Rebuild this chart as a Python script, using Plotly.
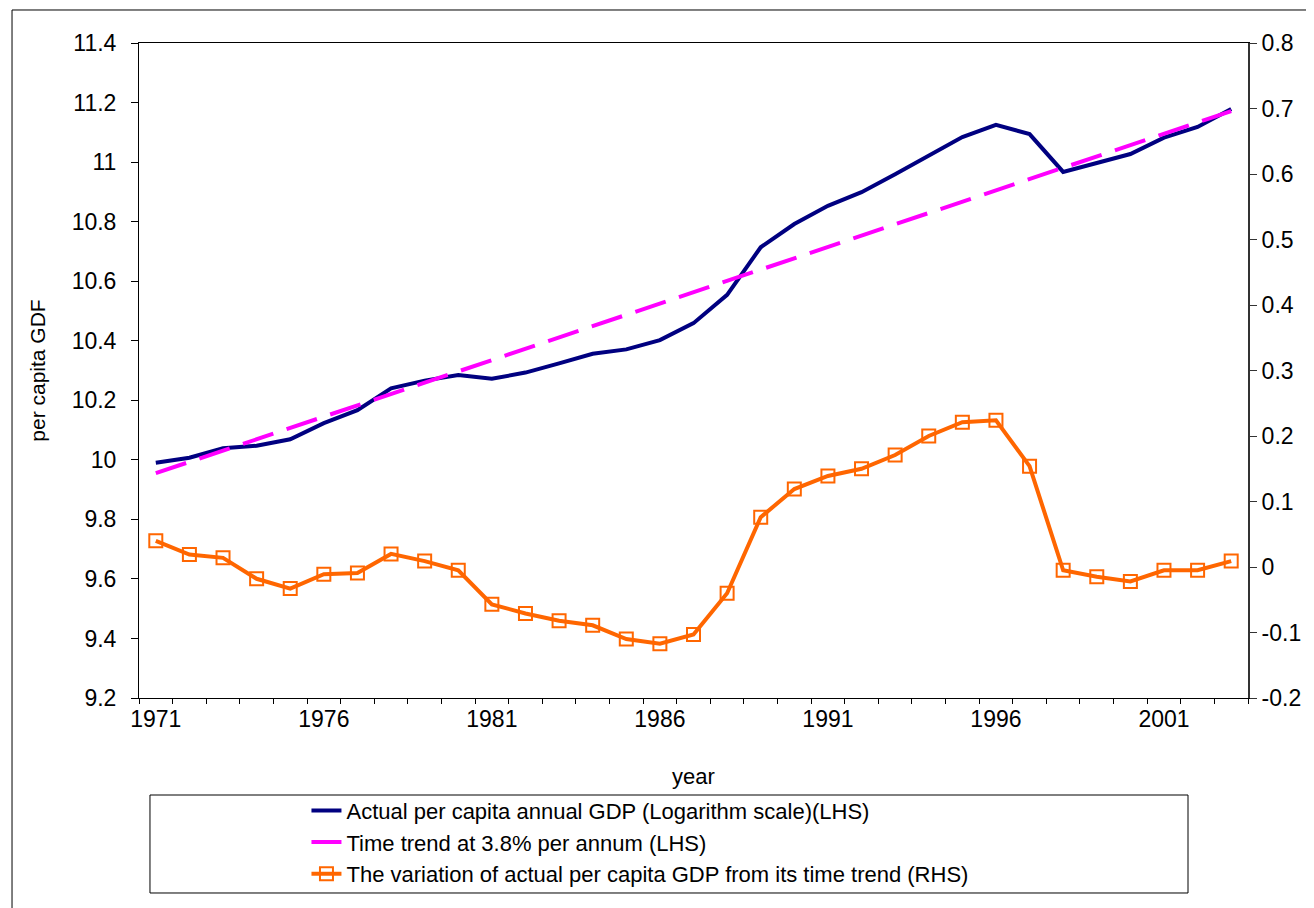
import plotly.graph_objects as go

years = [1971, 1972, 1973, 1974, 1975, 1976, 1977, 1978, 1979, 1980,
         1981, 1982, 1983, 1984, 1985, 1986, 1987, 1988, 1989, 1990,
         1991, 1992, 1993, 1994, 1995, 1996, 1997, 1998, 1999, 2000,
         2001, 2002, 2003]

actual_log_gdp = [9.990, 10.007, 10.039, 10.047, 10.069, 10.123, 10.167, 10.240, 10.266, 10.285,
                  10.272, 10.293, 10.324, 10.356, 10.371, 10.402, 10.459, 10.554, 10.714, 10.792,
                  10.853, 10.899, 10.959, 11.022, 11.084, 11.125, 11.094, 10.967, 10.998, 11.027,
                  11.082, 11.118, 11.178]

trend_log_gdp = [9.955, 9.993, 10.031, 10.069, 10.107, 10.145, 10.183, 10.221, 10.259, 10.297,
                 10.335, 10.373, 10.411, 10.449, 10.487, 10.525, 10.563, 10.601, 10.639, 10.677,
                 10.715, 10.753, 10.791, 10.829, 10.867, 10.905, 10.943, 10.981, 11.019, 11.057,
                 11.095, 11.133, 11.171]

variation = [0.040, 0.019, 0.014, -0.018, -0.033, -0.011, -0.009, 0.020, 0.009, -0.005,
             -0.057, -0.071, -0.082, -0.089, -0.110, -0.117, -0.103, -0.040, 0.076, 0.119,
             0.139, 0.150, 0.171, 0.200, 0.221, 0.224, 0.154, -0.005, -0.015, -0.022,
             -0.005, -0.005, 0.009]

x_labels = [1971, 1976, 1981, 1986, 1991, 1996, 2001]
left_ticks = [9.2, 9.4, 9.6, 9.8, 10.0, 10.2, 10.4, 10.6, 10.8, 11.0, 11.2, 11.4]
left_text = ["9.2", "9.4", "9.6", "9.8", "10", "10.2", "10.4", "10.6", "10.8", "11", "11.2", "11.4"]
right_ticks = [-0.2, -0.1, 0.0, 0.1, 0.2, 0.3, 0.4, 0.5, 0.6, 0.7, 0.8]
right_text = ["-0.2", "-0.1", "0", "0.1", "0.2", "0.3", "0.4", "0.5", "0.6", "0.7", "0.8"]

FONT = "Arial, Liberation Sans, sans-serif"

fig = go.Figure()
fig.add_trace(go.Scatter(
    x=years, y=actual_log_gdp, mode="lines",
    name="Actual per capita annual GDP (Logarithm scale)(LHS)",
    line=dict(color="#000080", width=4)))
fig.add_trace(go.Scatter(
    x=years, y=trend_log_gdp, mode="lines",
    name="Time trend at 3.8% per annum (LHS)",
    line=dict(color="#FF00FF", width=4, dash="32px,14px")))
fig.add_trace(go.Scatter(
    x=years, y=variation, mode="lines+markers", yaxis="y2",
    name="The variation of actual per capita GDP from its time trend (RHS)",
    line=dict(color="#FF6600", width=4),
    marker=dict(symbol="square-open", size=13, color="#FF6600",
                line=dict(color="#FF6600", width=2))))

half_years = [y - 0.5 for y in years] + [years[-1] + 0.5]

fig.update_layout(
    width=1306, height=900,
    margin=dict(l=131, r=66, t=35, b=210),
    paper_bgcolor="white", plot_bgcolor="white",
    font=dict(family=FONT, size=22, color="black"),
    showlegend=True,
    legend=dict(x=0.151, y=-0.140, xanchor="left", yanchor="top",
                bgcolor="rgba(0,0,0,0)", borderwidth=0,
                font=dict(family=FONT, size=22, color="black"),
                tracegroupgap=0),
    xaxis=dict(range=[years[0] - 0.5, years[-1] + 0.5],
               tickmode="array", tickvals=x_labels, ticktext=[str(v) for v in x_labels],
               ticks="", showgrid=False, zeroline=False,
               showline=True, linecolor="black", linewidth=1, mirror=True,
               minor=dict(tickmode="array", tickvals=half_years, ticks="outside",
                          ticklen=5, tickcolor="black", showgrid=False),
               title=dict(text="year", standoff=38, font=dict(size=22)),
               tickfont=dict(size=23)),
    yaxis=dict(range=[9.2, 11.4], tickmode="array", tickvals=left_ticks, ticktext=left_text,
               ticks="outside", ticklen=7, tickcolor="black",
               ticklabelstandoff=10,
               showgrid=False, zeroline=False,
               showline=True, linecolor="black", linewidth=1,
               title=dict(text="per capita GDF", standoff=20, font=dict(size=21)),
               tickfont=dict(size=23)),
    yaxis2=dict(range=[-0.2, 0.8], overlaying="y", side="right",
                tickmode="array", tickvals=right_ticks, ticktext=right_text,
                ticks="outside", ticklen=7, tickcolor="#333333",
                showgrid=False, zeroline=False,
                showline=True, linecolor="#333333", linewidth=2,
                tickfont=dict(size=23)),
    shapes=[
        dict(type="rect", xref="paper", yref="paper",
             x0=0.0099, x1=0.9459, y0=-0.2977, y1=-0.1481,
             line=dict(color="black", width=1), fillcolor="rgba(0,0,0,0)"),
        dict(type="rect", xref="paper", yref="paper",
             x0=-0.1145, x1=1.07, y0=-0.34, y1=1.0504,
             line=dict(color="black", width=1), fillcolor="rgba(0,0,0,0)"),
    ],
)

fig.write_html("out.html")
